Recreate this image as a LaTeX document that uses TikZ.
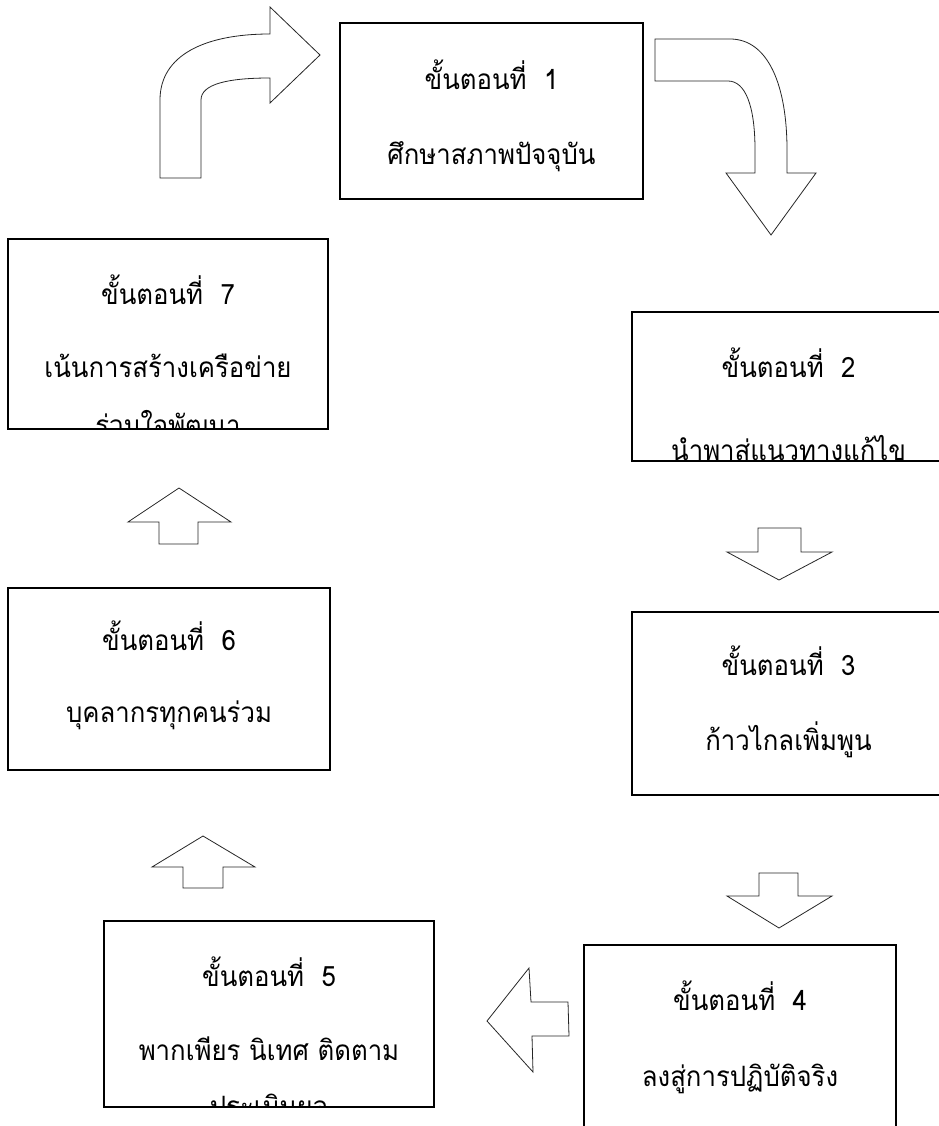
\documentclass[tikz,border=0pt]{standalone}
\usepackage{fontspec}
\newfontfamily\thaifont[Script=Thai,FakeStretch=0.92]{Loma}
\usetikzlibrary{calc}

\tikzset{
  stepbox/.style={draw,line width=1.2pt,inner sep=0pt},
  steptext/.style={anchor=base,inner sep=0pt,font=\thaifont\fontsize{21}{24}\selectfont},
  blockarrow/.style={draw=black!85,line width=0.6pt,fill=white}
}

\begin{document}
\begin{tikzpicture}[x=0.75pt,y=-0.75pt]
    \useasboundingbox (0,0) rectangle (938,1126);

    % boxes
    \node[stepbox,minimum width=227.25pt,minimum height=132pt] at (491.5,111) (step1) {};
    \node[stepbox,minimum width=234.75pt,minimum height=111.75pt] at (788.5,386.5) (step2) {};
    \node[stepbox,minimum width=234.75pt,minimum height=137.25pt] at (788.5,703.5) (step3) {};
    \node[stepbox,minimum width=234pt,minimum height=146.25pt] at (740,1042.5) (step4) {};
    \node[stepbox,minimum width=247.5pt,minimum height=139.5pt] at (269,1014) (step5) {};
    \node[stepbox,minimum width=241.5pt,minimum height=136.5pt] at (169,679) (step6) {};
    \node[stepbox,minimum width=240pt,minimum height=142.5pt] at (168,334) (step7) {};

    % texts
    \node[steptext] at (step1 |- 0,90) (step1a) {ขั้นตอนที่~~1};
    \node[steptext] at (step1 |- 0,165) (step1b) {ศึกษาสภาพปัจจุบัน};
    \node[steptext] at (step2 |- 0,377) (step2a) {ขั้นตอนที่~~2};
    \begin{scope}
      \clip (step2.south west) rectangle (step2.north east);
      \node[steptext] at (step2 |- 0,460) (step2b) {นำพาสู่แนวทางแก้ไข};
    \end{scope}
    \node[steptext] at (step3 |- 0,675) (step3a) {ขั้นตอนที่~~3};
    \node[steptext] at (step3 |- 0,750) (step3b) {ก้าวไกลเพิ่มพูน};
    \node[steptext] at (step4 |- 0,1010) (step4a) {ขั้นตอนที่~~4};
    \node[steptext] at (step4 |- 0,1086) (step4b) {ลงสู่การปฏิบัติจริง};
    \node[steptext] at (step5 |- 0,986) (step5a) {ขั้นตอนที่~~5};
    \node[steptext] at (step5 |- 0,1060) (step5b) {พากเพียร นิเทศ ติดตาม};
    \begin{scope}
      \clip (step5.south west) rectangle (step5.north east);
      \node[steptext] at (step5 |- 0,1116) (step5c) {ประเมินผล};
    \end{scope}
    \node[steptext] at (step6 |- 0,650) (step6a) {ขั้นตอนที่~~6};
    \node[steptext] at (step6 |- 0,722) (step6b) {บุคลากรทุกคนร่วม};
    \node[steptext] at (step7 |- 0,305) (step7a) {ขั้นตอนที่~~7};
    \node[steptext] at (step7 |- 0,377) (step7b) {เน้นการสร้างเครือข่าย};
    \begin{scope}
      \clip (step7.south west) rectangle (step7.north east);
      \node[steptext] at (step7 |- 0,435) (step7c) {ร่วมใจพัฒนา};
    \end{scope}

    % arrows
    \draw[blockarrow] (160,178) -- (160,100) .. controls (160,55) and (205,34) .. (270,34)
      -- (270,7) -- (320,55) -- (270,103) -- (270,78)
      .. controls (228,78) and (201,84) .. (201,100) -- (201,178) -- cycle;
    \draw[blockarrow] (655,39) -- (730,39) .. controls (768,39) and (787,85) .. (787,150)
      -- (787,173) -- (816,173) -- (771,235) -- (726,173) -- (755,173) -- (755,150)
      .. controls (755,105) and (745,81) .. (728,81) -- (655,81) -- cycle;
    \draw[blockarrow] (758,528) -- (801,528) -- (801,552) -- (832,552) -- (779,580)
      -- (727,552) -- (758,552) -- cycle;
    \draw[blockarrow] (759,873) -- (798,873) -- (798,896) -- (832,896) -- (779,928)
      -- (727,896) -- (759,896) -- cycle;
    \draw[blockarrow] (568,1002) -- (531,1002) -- (529,968) -- (487,1021) -- (533,1072)
      -- (532,1036) -- (569,1036) -- cycle;
    \draw[blockarrow] (183,888) -- (183,867) -- (152,867) -- (203,836) -- (255,867)
      -- (223,867) -- (223,888) -- cycle;
    \draw[blockarrow] (159,544) -- (159,522) -- (128,522) -- (179,488) -- (231,522)
      -- (198,522) -- (198,544) -- cycle;
\end{tikzpicture}
\end{document}
